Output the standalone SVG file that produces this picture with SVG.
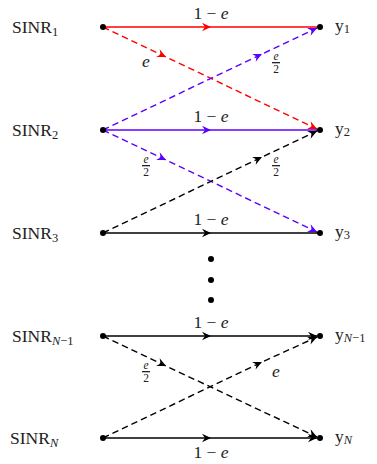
<svg xmlns="http://www.w3.org/2000/svg" width="377" height="464" viewBox="0 0 377 464">
<defs>
<style>
.t{font-family:"Liberation Serif","DejaVu Serif",serif;font-size:17.5px;fill:#222}
.s{font-size:12.5px}
.f{font-family:"Liberation Serif","DejaVu Serif",serif;font-size:11.5px;fill:#222}
.i{font-style:italic}
.ln{fill:none;stroke-width:1.4}
.d{stroke-dasharray:6.5,4}
.r{stroke:#ff0000}
.b{stroke:#5a00ff}
.k{stroke:#000}
</style>
<marker id="ar" viewBox="-10 -5 11 10" markerWidth="11" markerHeight="10" refX="0" refY="0" orient="auto" markerUnits="userSpaceOnUse"><path d="M-9,-4.2 L0,0 L-9,4.2 L-6,0 Z" fill="#ff0000"/></marker>
<marker id="ab" viewBox="-10 -5 11 10" markerWidth="11" markerHeight="10" refX="0" refY="0" orient="auto" markerUnits="userSpaceOnUse"><path d="M-9,-4.2 L0,0 L-9,4.2 L-6,0 Z" fill="#5a00ff"/></marker>
<marker id="ak" viewBox="-10 -5 11 10" markerWidth="11" markerHeight="10" refX="0" refY="0" orient="auto" markerUnits="userSpaceOnUse"><path d="M-9,-4.2 L0,0 L-9,4.2 L-6,0 Z" fill="#000"/></marker>
</defs>
<g id="connectors">
<polyline class="ln r" points="103,27 211,27 320,27" marker-mid="url(#ar)"/>
<polyline class="ln r d" points="103,27 166,57 317,129" marker-mid="url(#ar)" marker-end="url(#ar)"/>
<polyline class="ln b" points="103,130 211,130 320,130" marker-mid="url(#ab)"/>
<polyline class="ln b d" points="103,130 262,54 317,28" marker-mid="url(#ab)" marker-end="url(#ab)"/>
<polyline class="ln b d" points="103,130 166,160 317,232" marker-mid="url(#ab)" marker-end="url(#ab)"/>
<polyline class="ln k" points="103,233 211,233 320,233" marker-mid="url(#ak)"/>
<polyline class="ln k d" points="103,233 262,157 317,131" marker-mid="url(#ak)" marker-end="url(#ak)"/>
<polyline class="ln k" points="103,336 211,336 317,336" marker-mid="url(#ak)" marker-end="url(#ak)"/>
<polyline class="ln k d" points="103,336 166,366 317,437" marker-mid="url(#ak)" marker-end="url(#ak)"/>
<polyline class="ln k" points="103,438 211,438 317,438" marker-mid="url(#ak)" marker-end="url(#ak)"/>
<polyline class="ln k d" points="103,438 262,362 317,337" marker-mid="url(#ak)" marker-end="url(#ak)"/>
</g>
<g id="edge-labels">
<text class="t" x="211" y="19" text-anchor="middle">1 − <tspan class="i">e</tspan></text>
<text class="t" x="211" y="122" text-anchor="middle">1 − <tspan class="i">e</tspan></text>
<text class="t" x="211" y="225" text-anchor="middle">1 − <tspan class="i">e</tspan></text>
<text class="t" x="211" y="328" text-anchor="middle">1 − <tspan class="i">e</tspan></text>
<text class="t" x="211" y="458" text-anchor="middle">1 − <tspan class="i">e</tspan></text>
<text class="t i" x="146" y="67" text-anchor="middle">e</text>
<text class="t i" x="276" y="377" text-anchor="middle">e</text>
<g id="frac1"><text class="f i" x="276" y="60" text-anchor="middle">e</text><rect x="272" y="62" width="8" height="1.3" fill="#222"/><text class="f" x="276" y="72.5" text-anchor="middle">2</text></g>
<g id="frac2"><text class="f i" x="146" y="163" text-anchor="middle">e</text><rect x="142" y="165" width="8" height="1.3" fill="#222"/><text class="f" x="146" y="175.5" text-anchor="middle">2</text></g>
<g id="frac3"><text class="f i" x="276" y="163" text-anchor="middle">e</text><rect x="272" y="165" width="8" height="1.3" fill="#222"/><text class="f" x="276" y="175.5" text-anchor="middle">2</text></g>
<g id="frac4"><text class="f i" x="146" y="369" text-anchor="middle">e</text><rect x="142" y="371" width="8" height="1.3" fill="#222"/><text class="f" x="146" y="381.5" text-anchor="middle">2</text></g>
</g>
<g id="SINR1"><circle cx="103" cy="27" r="3"/><text class="t" x="12" y="33">SINR<tspan class="s" dy="3">1</tspan></text></g>
<g id="SINR2"><circle cx="103" cy="130" r="3"/><text class="t" x="12" y="136">SINR<tspan class="s" dy="3">2</tspan></text></g>
<g id="SINR3"><circle cx="103" cy="233" r="3"/><text class="t" x="12" y="239">SINR<tspan class="s" dy="3">3</tspan></text></g>
<g id="SINRN-1"><circle cx="103" cy="336" r="3"/><text class="t" x="12" y="342">SINR<tspan class="s i" dy="3">N</tspan><tspan class="s">−1</tspan></text></g>
<g id="SINRN"><circle cx="103" cy="438" r="3"/><text class="t" x="10" y="444">SINR<tspan class="s i" dy="3">N</tspan></text></g>
<g id="y1"><circle cx="320" cy="27" r="3"/><text class="t" x="335" y="31">y<tspan class="s" dy="2">1</tspan></text></g>
<g id="y2"><circle cx="320" cy="130" r="3"/><text class="t" x="335" y="134">y<tspan class="s" dy="2">2</tspan></text></g>
<g id="y3"><circle cx="320" cy="233" r="3"/><text class="t" x="335" y="237">y<tspan class="s" dy="2">3</tspan></text></g>
<g id="yN-1"><circle cx="320" cy="336" r="3"/><text class="t" x="335" y="340">y<tspan class="s i" dy="2">N</tspan><tspan class="s">−1</tspan></text></g>
<g id="yN"><circle cx="320" cy="438" r="3"/><text class="t" x="335" y="442">y<tspan class="s i" dy="2">N</tspan></text></g>
<g id="vdots"><circle cx="211" cy="259" r="3"/><circle cx="211" cy="280" r="3"/><circle cx="211" cy="300" r="3"/></g>
</svg>
